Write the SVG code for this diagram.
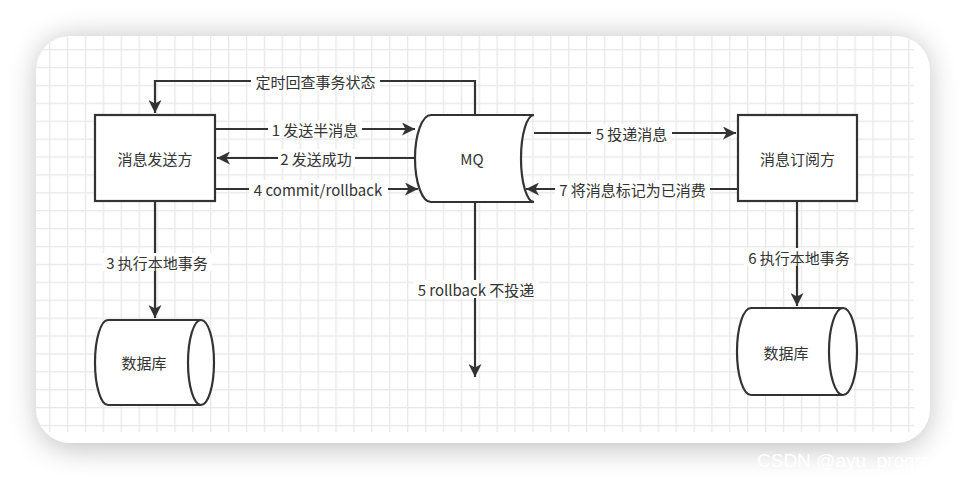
<svg xmlns="http://www.w3.org/2000/svg" width="966" height="480" viewBox="0 0 966 480">
<defs>
<style>
.t{font-family:"Noto Sans CJK SC","Microsoft YaHei",sans-serif;font-size:15px;fill:#333;text-anchor:middle;dominant-baseline:central}
.ln{fill:none;stroke:#333;stroke-width:2.2}
.sh{fill:#fff;stroke:#333;stroke-width:2.2}
.lb{fill:#fff}
</style>
<filter id="shadow" x="-10%" y="-20%" width="120%" height="140%">
<feGaussianBlur stdDeviation="15"/>
</filter>
<pattern id="grid" patternUnits="userSpaceOnUse" x="49" y="49" width="17.9" height="17.9">
<rect x="0" y="0" width="17.9" height="1.3" fill="#e8e8e8"/>
<rect x="0" y="0" width="1.3" height="17.9" fill="#e8e8e8"/>
</pattern>
<clipPath id="cardclip">
<rect x="36" y="36" width="894" height="407" rx="34" ry="34"/>
</clipPath>
<marker id="arr" markerUnits="userSpaceOnUse" markerWidth="15" markerHeight="13" refX="13" refY="6.5" orient="auto">
<path d="M0,0 L13,6.5 L0,13 L3.5,6.5 Z" fill="#333"/>
</marker>
</defs>
<rect x="0" y="0" width="966" height="480" fill="#fff"/>
<rect x="38" y="38" width="890" height="410" rx="34" fill="#000" opacity="0.26" filter="url(#shadow)"/>
<rect x="36" y="36" width="894" height="407" rx="34" ry="34" fill="#fff"/>
<g clip-path="url(#cardclip)">
<rect x="36" y="36" width="878" height="396" fill="url(#grid)"/>
</g>
<text x="757" y="460" font-family="Liberation Sans, Arial, sans-serif" font-size="19" fill="#fff" dominant-baseline="central">CSDN @ayu_program</text>

<g id="connectors">
<path class="ln" d="M475,114 V81 H155 V113" marker-end="url(#arr)"/>
<path class="ln" d="M215,129 H415" marker-end="url(#arr)"/>
<path class="ln" d="M414,158 H217" marker-end="url(#arr)"/>
<path class="ln" d="M215,189 H418" marker-end="url(#arr)"/>
<path class="ln" d="M534,133 H736" marker-end="url(#arr)"/>
<path class="ln" d="M738,189 H526" marker-end="url(#arr)"/>
<path class="ln" d="M155,201 V318" marker-end="url(#arr)"/>
<path class="ln" d="M797,201 V306" marker-end="url(#arr)"/>
<path class="ln" d="M475,202 V377" marker-end="url(#arr)"/>
<rect class="lb" x="251" y="72" width="129" height="18"/>
<text class="t" x="315.5" y="81">定时回查事务状态</text>
<rect class="lb" x="268" y="120" width="94" height="18"/>
<text class="t" x="315" y="129">1 发送半消息</text>
<rect class="lb" x="278" y="149" width="77" height="18"/>
<text class="t" x="316" y="158">2 发送成功</text>
<rect class="lb" x="249" y="180" width="139" height="18"/>
<text class="t" x="318" y="189">4 commit/rollback</text>
<rect class="lb" x="591" y="124" width="81" height="18"/>
<text class="t" x="631.5" y="133">5 投递消息</text>
<rect class="lb" x="555" y="180" width="155" height="18"/>
<text class="t" x="632.5" y="189">7 将消息标记为已消费</text>
<rect class="lb" x="102" y="253" width="110" height="18"/>
<text class="t" x="157" y="262">3 执行本地事务</text>
<rect class="lb" x="744" y="248" width="110" height="18"/>
<text class="t" x="799" y="257">6 执行本地事务</text>
<rect class="lb" x="413" y="280" width="126" height="18"/>
<text class="t" x="476" y="289">5 rollback 不投递</text>
</g>

<g id="sender">
<rect class="sh" x="95" y="115" width="120" height="86"/>
<text class="t" x="155" y="158">消息发送方</text>
</g>
<g id="mq">
<path class="sh" d="M431,115 H534 A13,43.5 0 0 0 534,202 H431 A16,43.5 0 0 1 431,115 Z"/>
<text class="t" x="472" y="158">MQ</text>
</g>
<g id="subscriber">
<rect class="sh" x="738" y="115" width="119" height="86"/>
<text class="t" x="797.5" y="158">消息订阅方</text>
</g>
<g id="db-left">
<path class="sh" d="M108,320 H201 A13,42.5 0 0 1 201,405 H108 A13,42.5 0 0 1 108,320 Z"/>
<path class="ln" d="M201,320 A13,42.5 0 0 0 201,405"/>
<text class="t" x="144" y="362">数据库</text>
</g>
<g id="db-right">
<path class="sh" d="M751,308 H843 A14,43.5 0 0 1 843,395 H751 A14,43.5 0 0 1 751,308 Z"/>
<path class="ln" d="M843,308 A14,43.5 0 0 0 843,395"/>
<text class="t" x="786" y="352">数据库</text>
</g>
</svg>
